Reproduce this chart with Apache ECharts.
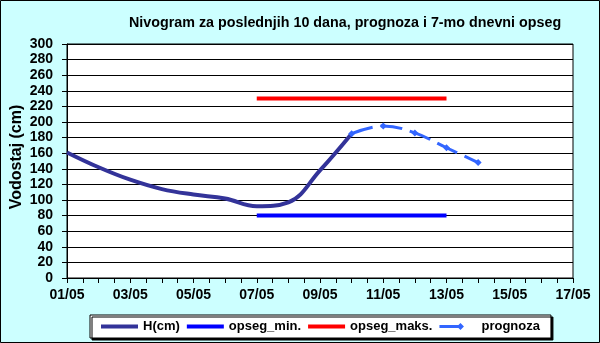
<!DOCTYPE html>
<html>
<head>
<meta charset="utf-8">
<script src="https://cdn.jsdelivr.net/npm/echarts@6/dist/echarts.min.js"></script>
<style>
  html, body { margin: 0; padding: 0; background: #ccffff; }
  #chart { width: 600px; height: 343px; }
</style>
</head>
<body>
<div id="chart"></div>
<script>
// Observed water level (cm), daily
const hDates = ['01/05', '02/05', '03/05', '04/05', '05/05', '06/05', '07/05', '08/05', '09/05', '10/05'];
const hValues = [161, 142, 126, 114, 107, 102, 92, 97, 138, 185];

// Forecast (cm)
const prognozaDates = ['10/05', '11/05', '12/05', '13/05', '14/05'];
const prognozaValues = [185, 195, 186, 167, 148];

// 7-day expected range
const rangeDates = ['07/05', '13/05'];
const opsegMin = [80, 80];
const opsegMaks = [230, 230];

// Axis labels
const firstDay = '01/05';
const lastDay = '17/05';
const yMin = 0, yMax = 300, yStep = 20;

const FONT = '"Liberation Sans", Arial, sans-serif';

// Legend icons: a solid bar, and a dash with a diamond marker.
// The leading moves fix the icon box to 37x10.
const ICON_BAR = 'path://M0,0M37,10M0,3h37v4h-37z';
const ICON_DASH = 'path://M0,0M37,10M0,3.5h22v3h-22zM21,1.5L24.5,5L21,8.5L17.5,5z';

// day offset from the first day of the axis
function dayOffset(label) {
  return parseInt(label.split('/')[0], 10) - parseInt(firstDay.split('/')[0], 10);
}
function offsetLabel(v) {
  const d = parseInt(firstDay.split('/')[0], 10) + v;
  return (d < 10 ? '0' : '') + d + '/' + firstDay.split('/')[1];
}
function pairs(dates, values) {
  return dates.map((d, i) => [dayOffset(d), values[i]]);
}

const chart = echarts.init(document.getElementById('chart'), null, { renderer: 'canvas' });

chart.setOption({
  backgroundColor: '#ccffff',
  animation: false,
  textStyle: { fontFamily: FONT },
  title: {
    text: 'Nivogram za poslednjih 10 dana, prognoza i 7-mo dnevni opseg',
    left: 124,
    top: 11,
    textStyle: { fontFamily: FONT, fontSize: 14.3, fontWeight: 'bold', color: '#000' }
  },
  grid: {
    left: 67, right: 27, top: 44, bottom: 65,
    outerBoundsMode: 'none',
    containLabel: false,
    show: true,
    backgroundColor: '#ffffff',
    borderColor: '#000',
    borderWidth: 1
  },
  xAxis: {
    type: 'value',
    min: 0,
    max: dayOffset(lastDay),
    interval: 2,
    axisLine: { show: true, lineStyle: { color: '#000', width: 1 } },
    axisTick: { show: true, inside: false, length: 5, lineStyle: { color: '#000' } },
    minorTick: { show: true, splitNumber: 4, length: 5, lineStyle: { color: '#000' } },
    splitLine: { show: false },
    axisLabel: {
      margin: 10,
      fontFamily: FONT, fontSize: 14, fontWeight: 'bold', color: '#000',
      formatter: v => offsetLabel(v)
    }
  },
  yAxis: {
    type: 'value',
    min: yMin, max: yMax, interval: yStep,
    name: 'Vodostaj (cm)',
    nameLocation: 'middle',
    nameGap: 42,
    nameMoveOverlap: false,
    nameTextStyle: {
      fontFamily: FONT, fontSize: 16, fontWeight: 'bold', color: '#000',
      padding: [0, 0, 0, 8]
    },
    axisLine: { show: true, lineStyle: { color: '#000', width: 1 } },
    axisTick: { show: true, inside: false, length: 5, lineStyle: { color: '#000' } },
    splitLine: { show: true, lineStyle: { color: '#000', width: 1 } },
    axisLabel: {
      margin: 14,
      fontFamily: FONT, fontSize: 14, fontWeight: 'bold', color: '#000'
    }
  },
  legend: {
    left: 90,
    top: 315,
    padding: [5, 11, 5, 11],
    itemGap: 7,
    itemWidth: 37,
    itemHeight: 10,
    symbolKeepAspect: false,
    backgroundColor: '#ffffff',
    borderColor: '#000',
    borderWidth: 1,
    borderRadius: 0,
    shadowColor: '#000',
    shadowBlur: 0,
    shadowOffsetX: 2,
    shadowOffsetY: 2,
    itemStyle: { borderWidth: 0 },
    textStyle: { fontFamily: FONT, fontSize: 13, fontWeight: 'bold', color: '#000' },
    data: [
      { name: 'H(cm)', icon: ICON_BAR },
      { name: 'opseg_min.', icon: ICON_BAR },
      { name: 'opseg_maks.', icon: ICON_BAR },
      { name: 'prognoza', icon: ICON_DASH }
    ]
  },
  series: [
    {
      name: 'H(cm)',
      type: 'line',
      data: pairs(hDates, hValues),
      smooth: 0.4,
      symbol: 'none',
      lineStyle: { color: '#333399', width: 4 },
      itemStyle: { color: '#333399' },
      z: 3
    },
    {
      name: 'opseg_min.',
      type: 'line',
      data: pairs(rangeDates, opsegMin),
      symbol: 'none',
      lineStyle: { color: '#0000ff', width: 4 },
      itemStyle: { color: '#0000ff' }
    },
    {
      name: 'opseg_maks.',
      type: 'line',
      data: pairs(rangeDates, opsegMaks),
      symbol: 'none',
      lineStyle: { color: '#ff0000', width: 4 },
      itemStyle: { color: '#ff0000' }
    },
    {
      name: 'prognoza',
      type: 'line',
      data: pairs(prognozaDates, prognozaValues),
      smooth: 0.4,
      symbol: 'diamond',
      symbolSize: 7,
      showAllSymbol: true,
      lineStyle: { color: '#3366ff', width: 3, type: [22, 8] },
      itemStyle: { color: '#3366ff' },
      z: 4
    }
  ],
  graphic: [
    {
      type: 'rect',
      shape: { x: 0.5, y: 0.5, width: 599, height: 342 },
      style: { fill: 'none', stroke: '#000', lineWidth: 1 },
      silent: true,
      z: 100
    }
  ]
});
</script>
</body>
</html>
